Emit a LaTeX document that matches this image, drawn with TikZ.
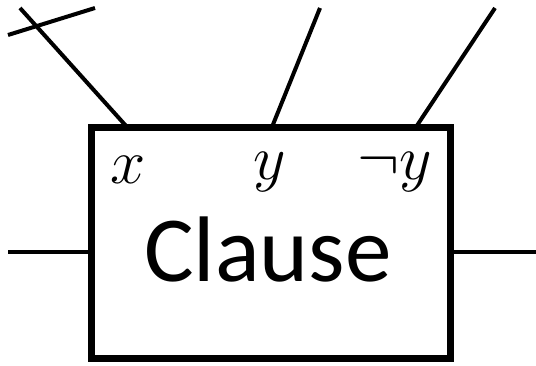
\RequirePackage{fix-cm}
\documentclass[tikz,border=0pt]{standalone}
\usepackage{fontspec}
\newfontfamily\clausefont{Carlito}
\begin{document}
\begin{tikzpicture}[wire/.style={line width=0.08cm},
  lbl/.style={font=\fontsize{36}{40}\selectfont}]
\useasboundingbox (0,0) rectangle (10.72,7.30);

\node[draw,line width=0.14cm,minimum width=7.18cm,minimum height=4.62cm,inner sep=0pt] (clause) at (5.41,2.45) {};
\node[font=\clausefont\fontsize{53}{60}\selectfont] (name) at (5.36,2.30) {Clause};

\node[lbl] (lx) at (2.56,3.90) {$x$};
\node[lbl] (ly) at (5.40,3.86) {$y$};
\node[lbl] (lny) at (7.90,3.86) {$\neg y$};

\coordinate (px) at (2.54,4.76);
\coordinate (py) at (5.44,4.76);
\coordinate (pny) at (8.32,4.76);
\coordinate (ex) at (0.40,7.14);
\coordinate (ey) at (6.40,7.14);
\coordinate (eny) at (9.90,7.14);
\coordinate (ca) at (0.16,6.60);
\coordinate (cb) at (1.90,7.14);
\coordinate (win) at (0.16,2.26);
\coordinate (wout) at (10.72,2.26);

\draw[wire] (px) -- (ex);
\draw[wire] (py) -- (ey);
\draw[wire] (pny) -- (eny);
\draw[wire] (ca) -- (cb);
\draw[wire] (win) -- (win -| clause.west);
\draw[wire] (clause.east |- wout) -- (wout);
\end{tikzpicture}
\end{document}
